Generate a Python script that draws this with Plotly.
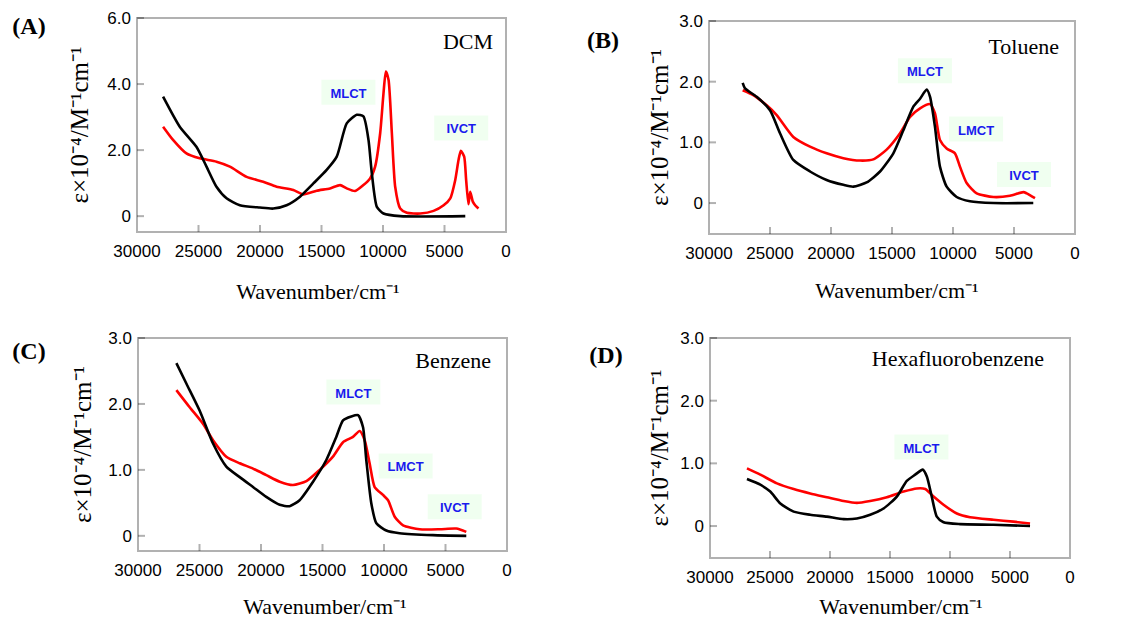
import plotly.graph_objects as go

# ---------------- data (wavenumber cm-1, epsilon x1e-4) ----------------
a_black_x = [27880, 26525, 25170, 24350, 23540, 22720, 21640, 20010, 18920, 17840, 16750, 15660,
             14580, 13760, 12950, 12130, 11590, 11180, 10910, 10500, 9960, 8600, 3310]
a_black_y = [3.62, 2.71, 2.10, 1.50, 0.89, 0.54, 0.33, 0.26, 0.23, 0.33, 0.59, 0.99,
             1.40, 1.80, 2.81, 3.07, 3.02, 2.31, 1.30, 0.28, 0.08, 0.0, 0.0]
a_red_x = [27880, 27070, 25980, 24900, 23540, 22450, 21090, 19740, 18650, 17290, 16480, 15390,
           14310, 13490, 12950, 12270, 11590, 11050, 10640, 10230, 9960, 9770, 9550, 9280,
           9010, 8600, 8060, 6970, 5890, 5070, 4530, 4130, 3860, 3670, 3400, 3240, 3050,
           2910, 2700, 2510, 2240]
a_red_y = [2.71, 2.31, 1.90, 1.75, 1.65, 1.50, 1.19, 1.04, 0.89, 0.79, 0.66, 0.77,
           0.84, 0.94, 0.84, 0.76, 0.94, 1.14, 1.50, 2.51, 3.72, 4.38, 4.13, 2.51,
           0.89, 0.23, 0.10, 0.08, 0.16, 0.33, 0.54, 1.09, 1.70, 1.98, 1.80, 1.09, 0.36,
           0.74, 0.44, 0.33, 0.23]

b_black_x = [27240, 27050, 26090, 25000, 24180, 23090, 21720, 20360, 18990, 18170, 17080, 15980,
             14890, 14070, 13250, 12700, 12160, 11880, 11480, 11070, 10520, 9700, 8610, 6690, 3420]
b_black_y = [1.98, 1.89, 1.75, 1.53, 1.15, 0.71, 0.52, 0.38, 0.30, 0.27, 0.34, 0.52,
             0.82, 1.20, 1.59, 1.72, 1.87, 1.75, 1.26, 0.60, 0.27, 0.10, 0.03, 0.0, 0.0]
b_red_x = [27240, 26370, 25270, 24450, 23090, 21720, 20360, 18990, 17620, 16530, 15440, 14340,
           13520, 12700, 11880, 11480, 11070, 10520, 9840, 9430, 8880, 8060, 6690, 5330, 4230,
           3960, 3280]
b_red_y = [1.86, 1.78, 1.61, 1.45, 1.09, 0.93, 0.82, 0.74, 0.70, 0.72, 0.88, 1.15,
           1.42, 1.56, 1.63, 1.48, 1.04, 0.90, 0.82, 0.60, 0.33, 0.16, 0.10, 0.12, 0.18,
           0.16, 0.08]

c_black_x = [26880, 26070, 24990, 23900, 22820, 21730, 20650, 19570, 18480, 17670, 16860, 15770,
             14690, 13880, 13330, 12660, 12110, 11710, 11440, 11030, 10620, 9810, 8730, 6020, 3310]
c_black_y = [2.62, 2.31, 1.90, 1.40, 1.05, 0.89, 0.74, 0.59, 0.47, 0.45, 0.54, 0.82,
             1.15, 1.50, 1.75, 1.81, 1.83, 1.65, 1.15, 0.49, 0.19, 0.08, 0.04, 0.01, 0.0]
c_red_x = [26880, 25800, 24720, 23900, 22820, 21730, 20650, 19570, 18480, 17400, 16310, 15230,
           14150, 13330, 12520, 11980, 11570, 11170, 10760, 10080, 9670, 9130, 8450, 7100,
           5470, 4120, 3310]
c_red_y = [2.21, 1.95, 1.70, 1.45, 1.20, 1.10, 1.02, 0.92, 0.82, 0.77, 0.83, 1.00,
           1.20, 1.42, 1.50, 1.59, 1.45, 1.10, 0.74, 0.62, 0.54, 0.29, 0.16, 0.10,
           0.10, 0.11, 0.06]

d_black_x = [26920, 25810, 24980, 24140, 23030, 21650, 20260, 18870, 17760, 16650, 15540, 14430,
             13600, 12900, 12270, 11930, 11520, 11100, 10540, 9160, 6380, 3330]
d_black_y = [0.75, 0.66, 0.55, 0.36, 0.23, 0.18, 0.15, 0.11, 0.12, 0.18, 0.28, 0.47,
             0.72, 0.82, 0.90, 0.79, 0.47, 0.15, 0.06, 0.03, 0.02, 0.0]
d_red_x = [26920, 25810, 24420, 23030, 21650, 20260, 18870, 17760, 16650, 15260, 13870, 12760,
           12060, 11370, 10540, 9430, 8330, 6380, 4720, 3330]
d_red_y = [0.92, 0.82, 0.68, 0.59, 0.52, 0.46, 0.40, 0.37, 0.40, 0.46, 0.55, 0.60,
           0.59, 0.47, 0.34, 0.20, 0.14, 0.10, 0.07, 0.04]

panel_letters = ["(A)", "(B)", "(C)", "(D)"]
solvents = ["DCM", "Toluene", "Benzene", "Hexafluorobenzene"]
x_ticks = [30000, 25000, 20000, 15000, 10000, 5000, 0]
y_ticks_a = [0, 2.0, 4.0, 6.0]
y_ticks_a_text = ["0", "2.0", "4.0", "6.0"]
y_ticks_bcd = [0, 1.0, 2.0, 3.0]
y_ticks_bcd_text = ["0", "1.0", "2.0", "3.0"]

# band labels: (panel, text, x, y)
band_labels = [
    (0, "MLCT", 12810, 3.75), (0, "IVCT", 3640, 2.67),
    (1, "MLCT", 12300, 2.18), (1, "LMCT", 8110, 1.22), (1, "IVCT", 4180, 0.47),
    (2, "MLCT", 12490, 2.18), (2, "LMCT", 8240, 1.06), (2, "IVCT", 4250, 0.44),
    (3, "MLCT", 12380, 1.26),
]

# ---------------- figure ----------------
W, H = 1124, 622
SERIF = "Liberation Serif, Times New Roman, serif"
SANS = "Liberation Sans, Arial, sans-serif"
XR = [30000, 0]
YTITLE = "\u03b5\u00d710\u207b\u2074/M\u207b\u00b9cm\u207b\u00b9"
XTITLE = "Wavenumber/cm\u207b\u00b9"
TICKLEN = 7

panels = [
    dict(bx=a_black_x, by=a_black_y, rx=a_red_x, ry=a_red_y,
         px=(137, 506), py=(18, 232), yr=[-0.48, 6.0], yt=y_ticks_a, ytt=y_ticks_a_text,
         letter=(29, 28), solv=(493, 43), xt=(318, 293), ystand=11),
    dict(bx=b_black_x, by=b_black_y, rx=b_red_x, ry=b_red_y,
         px=(709, 1075), py=(21, 234), yr=[-0.51, 3.0], yt=y_ticks_bcd, ytt=y_ticks_bcd_text,
         letter=(603, 42), solv=(1059, 48), xt=(897, 292), ystand=3),
    dict(bx=c_black_x, by=c_black_y, rx=c_red_x, ry=c_red_y,
         px=(138, 507), py=(338, 551), yr=[-0.23, 3.0], yt=y_ticks_bcd, ytt=y_ticks_bcd_text,
         letter=(29, 353), solv=(491, 362), xt=(325, 608), ystand=9),
    dict(bx=d_black_x, by=d_black_y, rx=d_red_x, ry=d_red_y,
         px=(710, 1070), py=(338, 558), yr=[-0.51, 3.0], yt=y_ticks_bcd, ytt=y_ticks_bcd_text,
         letter=(606, 357), solv=(1044, 360), xt=(901, 608), ystand=4),
]


def x_to_px(p, v):
    l, r = p["px"]
    return l + (v - XR[0]) / (XR[1] - XR[0]) * (r - l)


def y_to_px(p, v):
    t, b = p["py"]
    return t + (p["yr"][1] - v) / (p["yr"][1] - p["yr"][0]) * (b - t)


fig = go.Figure()

# full-page overlay axes (pixel coordinates) for free-standing texts
fig.update_layout(
    xaxis5=dict(domain=[0, 1], range=[0, W], visible=False, anchor="y5", fixedrange=True),
    yaxis5=dict(domain=[0, 1], range=[H, 0], visible=False, anchor="x5", fixedrange=True),
)

shapes = []
BLK = dict(color="black", width=2)
for i, p in enumerate(panels):
    n = "" if i == 0 else str(i + 1)
    xa, ya = "x" + n, "y" + n
    for xs, ys, col in ((p["rx"], p["ry"], "#ff0000"), (p["bx"], p["by"], "#000000")):
        fig.add_trace(go.Scatter(x=xs, y=ys, xaxis=xa, yaxis=ya, mode="lines",
                                 line=dict(color=col, width=2.6, shape="spline", smoothing=0.6),
                                 showlegend=False, hoverinfo="skip"))
    common = dict(showline=False, ticks="", mirror=False, showgrid=False, zeroline=False,
                  tickfont=dict(family=SANS, size=17, color="black"), fixedrange=True)
    fig.update_layout(**{
        "xaxis" + n: dict(domain=[p["px"][0] / W, p["px"][1] / W], range=XR,
                          tickvals=x_ticks, ticktext=[str(v) for v in x_ticks],
                          ticklabelstandoff=7, anchor=ya, **common),
        "yaxis" + n: dict(domain=[1 - p["py"][1] / H, 1 - p["py"][0] / H], range=p["yr"],
                          tickvals=p["yt"], ticktext=p["ytt"], ticklabelstandoff=5, anchor=xa,
                          title=dict(text=YTITLE, standoff=p["ystand"],
                                     font=dict(family=SERIF, size=25, color="black")),
                          **common),
    })
    # frame (paper-referenced so it is not clipped by the subplot)
    l, r = p["px"]
    t, b = p["py"]
    shapes.append(dict(type="rect", xref="paper", yref="paper",
                       x0=l / W, x1=r / W, y0=1 - b / H, y1=1 - t / H,
                       line=BLK, fillcolor="rgba(0,0,0,0)", layer="above"))
    # inward ticks on bottom and left, positioned through the axis scales
    for v in x_ticks[1:-1]:
        xp = x_to_px(p, v) / W
        shapes.append(dict(type="line", xref="paper", yref="paper", x0=xp, x1=xp,
                           y0=1 - b / H, y1=1 - (b - TICKLEN) / H, line=BLK, layer="above"))
    for v in p["yt"]:
        yp = 1 - y_to_px(p, v) / H
        shapes.append(dict(type="line", xref="paper", yref="paper", x0=l / W,
                           x1=(l + TICKLEN) / W, y0=yp, y1=yp, line=BLK, layer="above"))
    # band-label boxes
    xu = (XR[0] - XR[1]) / (r - l)
    yu = (p["yr"][1] - p["yr"][0]) / (b - t)
    for (pi, txt, bx_, by_) in band_labels:
        if pi != i:
            continue
        shapes.append(dict(type="rect", xref=xa, yref=ya,
                           x0=bx_ + 27 * xu, x1=bx_ - 27 * xu, y0=by_ - 12.5 * yu, y1=by_ + 12.5 * yu,
                           fillcolor="#ccffcc", line=dict(width=0), layer="above",
                           label=dict(text=txt, textposition="middle center",
                                      font=dict(family=SANS, size=13, color="#1a1aee",
                                                weight="bold"))))
    # free texts on the overlay
    fig.add_trace(go.Scatter(x=[p["letter"][0]], y=[p["letter"][1]], xaxis="x5", yaxis="y5",
                             mode="text", text=[panel_letters[i]], textposition="middle center",
                             textfont=dict(family=SERIF, size=24, color="black", weight="bold"),
                             cliponaxis=False, showlegend=False, hoverinfo="skip"))
    fig.add_trace(go.Scatter(x=[p["solv"][0]], y=[p["solv"][1]], xaxis="x5", yaxis="y5",
                             mode="text", text=[solvents[i]], textposition="middle left",
                             textfont=dict(family=SERIF, size=22, color="black"),
                             cliponaxis=False, showlegend=False, hoverinfo="skip"))
    fig.add_trace(go.Scatter(x=[p["xt"][0]], y=[p["xt"][1]], xaxis="x5", yaxis="y5",
                             mode="text", text=[XTITLE], textposition="middle center",
                             textfont=dict(family=SERIF, size=22, color="black"),
                             cliponaxis=False, showlegend=False, hoverinfo="skip"))

fig.update_layout(template="simple_white", width=W, height=H, shapes=shapes,
                  margin=dict(l=0, r=0, t=0, b=0, pad=0, autoexpand=False),
                  paper_bgcolor="white", plot_bgcolor="rgba(0,0,0,0)", showlegend=False)

fig.write_html("out.html")
